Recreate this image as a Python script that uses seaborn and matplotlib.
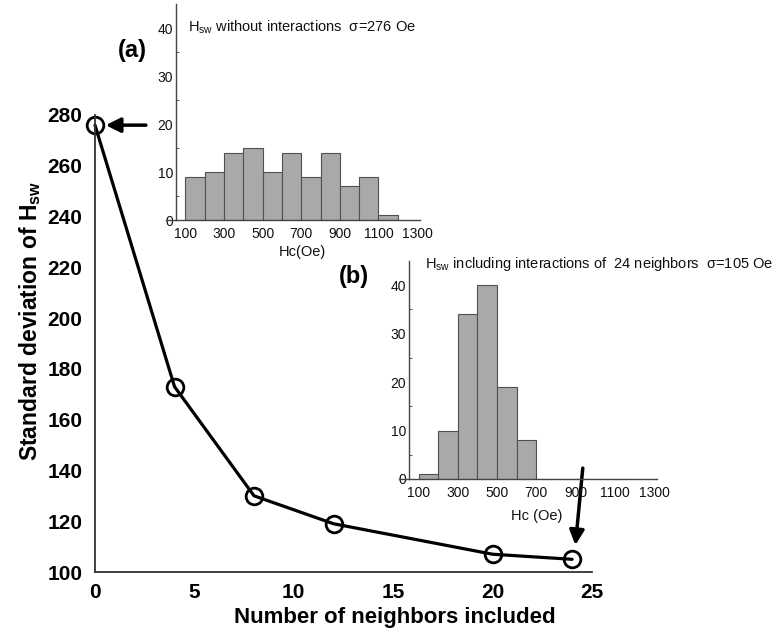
import numpy as np
import pandas as pd
import matplotlib
matplotlib.use("Agg")
import matplotlib.pyplot as plt
import seaborn as sns

# ---- data ----
neighbors = [0, 4, 8, 12, 20, 24]
std_hsw = [276, 173, 130, 119, 107, 105]

bin_edges = [100, 200, 300, 400, 500, 600, 700, 800, 900, 1000, 1100, 1200]
counts_no_int = [9, 10, 14, 15, 10, 14, 9, 14, 7, 9, 1]
counts_24 = [1, 10, 34, 40, 19, 8, 0, 0, 0, 0, 0]

main_yticks = [100, 120, 140, 160, 180, 200, 220, 240, 260, 280]
main_xticks = [0, 5, 10, 15, 20, 25]
inset_xticks = [100, 300, 500, 700, 900, 1100, 1300]
inset_yticks = [0, 10, 20, 30, 40]

sns.set_theme(style="white")
plt.rcParams["font.family"] = ["Liberation Sans", "DejaVu Sans"]
plt.rcParams["mathtext.fontset"] = "custom"
plt.rcParams["mathtext.rm"] = "Liberation Sans"
plt.rcParams["mathtext.bf"] = "Liberation Sans:bold"
plt.rcParams["mathtext.it"] = "Liberation Sans:italic"
plt.rcParams["text.color"] = "black"
plt.rcParams["axes.labelcolor"] = "black"

W, H = 778, 635
fig = plt.figure(figsize=(W / 100, H / 100), dpi=100)
fig.patch.set_facecolor("white")


def px_axes(x0, x1, y0, y1):
    return [x0 / W, (H - y1) / H, (x1 - x0) / W, (y1 - y0) / H]


# ---- main axes ----
ax = fig.add_axes(px_axes(95, 592, 115, 572))
df = pd.DataFrame({"n": neighbors, "s": std_hsw})
sns.lineplot(data=df, x="n", y="s", ax=ax, color="black", lw=2.3,
             marker="o", markersize=12, markerfacecolor="none",
             markeredgecolor="black", markeredgewidth=2.0, clip_on=False)
ax.set_xlim(0, 25)
ax.set_ylim(100, 280)
ax.set_xticks(main_xticks)
ax.set_yticks(main_yticks)
for s in ["top", "right"]:
    ax.spines[s].set_visible(False)
for s in ["left", "bottom"]:
    ax.spines[s].set_color("#333333")
    ax.spines[s].set_linewidth(1.3)
ax.tick_params(axis="both", direction="in", length=5, width=1.0, colors="#333333",
               labelcolor="black", labelsize=15)
ax.tick_params(axis="y", pad=9)
ax.tick_params(axis="x", pad=8)
for lab in ax.get_xticklabels() + ax.get_yticklabels():
    lab.set_fontweight("bold")
ax.set_xlabel("Number of neighbors included", fontsize=16, fontweight="bold")
ax.set_ylabel(r"Standard deviation of H$_{\mathbf{sw}}$", fontsize=16.5, fontweight="bold")
ax.xaxis.label.set_va("center")
ax.yaxis.label.set_va("center")
ax.xaxis.set_label_coords((395 - 95) / 497, -(618 - 572) / 457)
ax.yaxis.set_label_coords((30 - 95) / 497, (572 - 321) / 457)
ax.set_facecolor("none")

# arrows
ax.annotate("", xy=(0.4, 276), xytext=(2.7, 276), xycoords="data",
            arrowprops=dict(arrowstyle="-|>", color="black", lw=2.5, mutation_scale=22),
            annotation_clip=False)
ax.annotate("", xy=(24.15, 109.5), xytext=(24.55, 142), xycoords="data",
            arrowprops=dict(arrowstyle="-|>", color="black", lw=2.5, mutation_scale=22),
            annotation_clip=False)


def draw_inset(rect, counts, title, xlabel, title_xy, xlabel_xy):
    ia = fig.add_axes(rect)
    centers = [(a + b) / 2 for a, b in zip(bin_edges[:-1], bin_edges[1:])]
    hd = pd.DataFrame({"hc": centers, "w": counts})
    sns.histplot(data=hd, x="hc", weights="w", bins=bin_edges, ax=ia,
                 color="#a9a9a9", edgecolor="#505050", linewidth=0.8, alpha=1.0)
    ia.set_xlim(0, 1315)
    ia.set_ylim(0, 45)
    ia.set_xticks(inset_xticks)
    ia.set_yticks(inset_yticks)
    ia.set_yticks([5, 15, 25, 35], minor=True)
    ia.set_xlabel("")
    ia.set_ylabel("")
    for s in ["top", "right"]:
        ia.spines[s].set_visible(False)
    ia.spines["left"].set_position(("data", 50))
    for s in ["left", "bottom"]:
        ia.spines[s].set_color("#444444")
        ia.spines[s].set_linewidth(1.0)
    ia.tick_params(axis="both", which="major", direction="in", length=3, width=0.8,
                   colors="#444444", labelcolor="#111111", labelsize=10, pad=2)
    ia.tick_params(axis="y", which="minor", direction="in", length=2, width=0.6,
                   colors="#444444", left=True)
    ia.tick_params(axis="x", pad=5)
    ia.set_facecolor("none")
    fig.text(title_xy[0] / W, 1 - title_xy[1] / H, title, fontsize=10.5,
             ha="left", va="center", color="#111111")
    fig.text(xlabel_xy[0] / W, 1 - xlabel_xy[1] / H, xlabel, fontsize=10.5,
             ha="center", va="center", color="#111111")
    return ia


draw_inset(px_axes(166, 420, 4, 220), counts_no_int,
           r"H$_{\mathregular{sw}}$ without interactions  σ=276 Oe", "Hc(Oe)",
           (188, 27), (302, 252))
draw_inset(px_axes(399, 657, 261, 479), counts_24,
           r"H$_{\mathregular{sw}}$ including interactions of  24 neighbors  σ=105 Oe", "Hc (Oe)",
           (425, 264), (537, 516))

fig.text(132 / W, 1 - 50 / H, "(a)", fontsize=17, fontweight="bold", ha="center", va="center", color="black")
fig.text(354 / W, 1 - 277 / H, "(b)", fontsize=17, fontweight="bold", ha="center", va="center", color="black")

fig.savefig("out.png", dpi=100, facecolor="white")
